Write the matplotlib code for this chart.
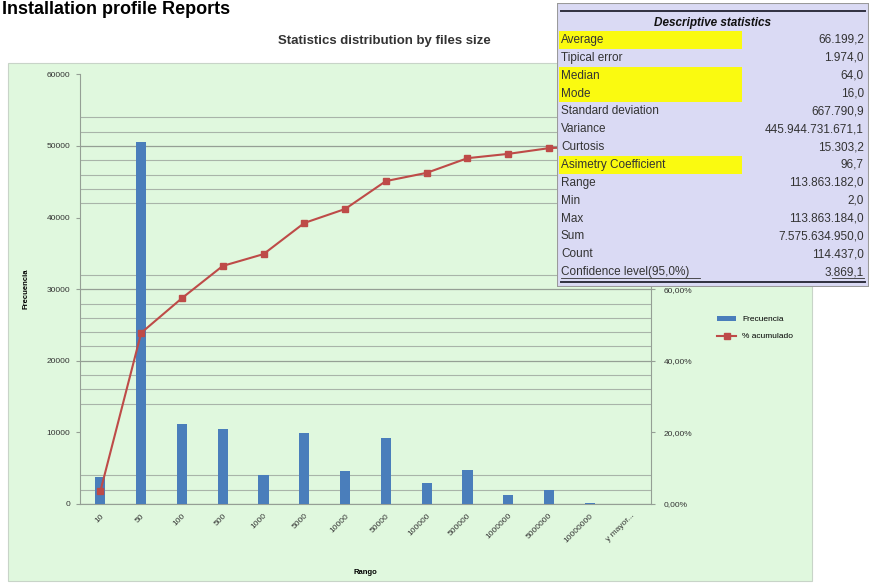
import matplotlib
matplotlib.use("Agg")
import matplotlib.pyplot as plt
from matplotlib.patches import Rectangle
from matplotlib.ticker import FuncFormatter

plt.rcParams['font.family'] = ['Liberation Sans', 'DejaVu Sans']

# data
rangos = ["10", "50", "100", "500", "1000", "5000", "10000", "50000", "100000",
          "500000", "1000000", "5000000", "10000000", "y mayor..."]
frecuencia = [3800, 50500, 11200, 10500, 4000, 9900, 4600, 9200, 2900,
              4700, 1200, 1900, 200, 0]
acumulado = [3.6, 47.8, 57.5, 66.5, 69.8, 78.5, 82.4, 90.2, 92.5,
             96.6, 97.8, 99.4, 99.9, 100.0]

major_grid = [0, 20000, 30000, 50000]
minor_grid = [2000, 4000, 14000, 16000, 18000, 22000, 24000, 26000, 28000,
              32000, 42000, 44000, 46000, 48000, 52000, 54000]

stat_names = ["Average", "Tipical error", "Median", "Mode", "Standard deviation",
              "Variance", "Curtosis", "Asimetry Coefficient", "Range", "Min",
              "Max", "Sum", "Count", "Confidence level(95,0%)"]
stat_values = ["66.199,2", "1.974,0", "64,0", "16,0", "667.790,9",
               "445.944.731.671,1", "15.303,2", "96,7", "113.863.182,0", "2,0",
               "113.863.184,0", "7.575.634.950,0", "114.437,0", "3.869,1"]
highlighted = ["Average", "Median", "Mode", "Asimetry Coefficient"]

W, H = 879, 586
fig = plt.figure(figsize=(W / 100, H / 100), dpi=100)
fig.patch.set_facecolor("white")


def px(x0, y0, x1, y1):
    # pixel box (top-left origin) -> figure rect
    return [x0 / W, 1 - y1 / H, (x1 - x0) / W, (y1 - y0) / H]


# chart area background
bg = fig.add_axes([0, 0, 1, 1], zorder=-5)
bg.set_xlim(0, W)
bg.set_ylim(H, 0)
bg.axis("off")
bg.add_patch(Rectangle((8, 63), 804, 518, facecolor="#E0F8DE",
                       edgecolor="#C8D4C8", lw=0.8))

fig.text(2 / W, 1 - 1 / H, "Installation profile Reports", fontsize=13,
         fontweight="bold", color="black", ha="left", va="top")
fig.text(384 / W, 1 - 41 / H, "Statistics distribution by files size",
         fontsize=9.5, fontweight="bold", color="#333333", ha="center", va="center")

ax = fig.add_axes(px(80, 74.4, 651, 504))
ax.set_facecolor("none")
x = list(range(len(rangos)))
ax.bar(x, frecuencia, width=0.25, color="#4A7EBB", label="Frecuencia", zorder=3)
ax.set_xlim(-0.5, len(rangos) - 0.5)
ax.set_ylim(0, 60000)
ax.set_yticks(range(0, 60001, 10000))
ax.set_yticklabels([str(v) for v in range(0, 60001, 10000)])
for g in minor_grid:
    ax.axhline(g, color="#A9B4A9", lw=0.8, zorder=1)
for g in major_grid:
    ax.axhline(g, color="#959F95", lw=0.9, zorder=1)
ax.set_xticks(x)
ax.set_xticklabels(rangos, rotation=45, ha="right", va="top",
                   rotation_mode="anchor", fontsize=6, color="#333333")
ax.tick_params(axis="x", length=0, pad=6)
ax.tick_params(axis="y", length=3, color="#959F95", labelsize=6,
               labelcolor="#333333", pad=4)
for s in ["top", "right"]:
    ax.spines[s].set_visible(False)
ax.spines["left"].set_color("#959F95")
ax.spines["bottom"].set_color("#959F95")
ax.set_ylabel("Frecuencia", fontsize=5.5, fontweight="bold", labelpad=12)
ax.set_xlabel("Rango", fontsize=5.5, fontweight="bold", labelpad=18)

ax2 = ax.twinx()
ax2.set_facecolor("none")
ax2.plot(x, acumulado, color="#BE4B48", lw=1.5, marker="s", markersize=5,
         label="% acumulado", zorder=4)
ax2.set_ylim(0, 120)
ax2.set_yticks(range(0, 121, 20))
ax2.yaxis.set_major_formatter(FuncFormatter(lambda v, p: f"{v:.2f}%".replace(".", ",")))
ax2.tick_params(axis="y", length=3, color="#959F95", labelsize=6,
                labelcolor="#333333", pad=6)
for s in ["top", "left", "bottom"]:
    ax2.spines[s].set_visible(False)
ax2.spines["right"].set_color("#959F95")

h1, l1 = ax.get_legend_handles_labels()
h2, l2 = ax2.get_legend_handles_labels()
fig.legend(h1 + h2, l1 + l2, loc="center left",
           bbox_to_anchor=(710 / W, 1 - 328 / H), frameon=False,
           fontsize=6, handlelength=2.2, labelspacing=1.1)

# descriptive statistics table
tx0, tx1, ty0, ty1 = 557, 869, 3, 287
tab = fig.add_axes(px(tx0, ty0, tx1, ty1), zorder=5)
tab.set_xlim(tx0, tx1)
tab.set_ylim(ty1, ty0)
tab.axis("off")
tab.add_patch(Rectangle((tx0, ty0), tx1 - tx0, ty1 - ty0, facecolor="#DADAF4",
                        edgecolor="#9A9A9A", lw=1.5))
tab.plot([561, 865], [11, 11], color="#303040", lw=1.4)
tab.text(713, 23, "Descriptive statistics", fontsize=8.5, fontweight="bold",
         fontstyle="italic", ha="center", va="center", color="#111111")
row0, step = 40, 17.85
for i, (name, val) in enumerate(zip(stat_names, stat_values)):
    y = row0 + i * step
    if name in highlighted:
        tab.add_patch(Rectangle((559, y - step / 2), 183, step,
                                facecolor="#FAFA10", edgecolor="none"))
    tab.text(561, y, name, fontsize=8.5, ha="left", va="center", color="#333333")
    tab.text(864, y, val, fontsize=8.5, ha="right", va="center", color="#333333")
ylast = row0 + 13 * step
tab.plot([561, 700], [ylast + 6, ylast + 6], color="#333333", lw=0.6)
tab.plot([832, 864], [ylast + 6, ylast + 6], color="#333333", lw=0.6)
tab.plot([561, 865], [ylast + 10, ylast + 10], color="#303040", lw=1.4)

fig.savefig("out.png", dpi=100)
